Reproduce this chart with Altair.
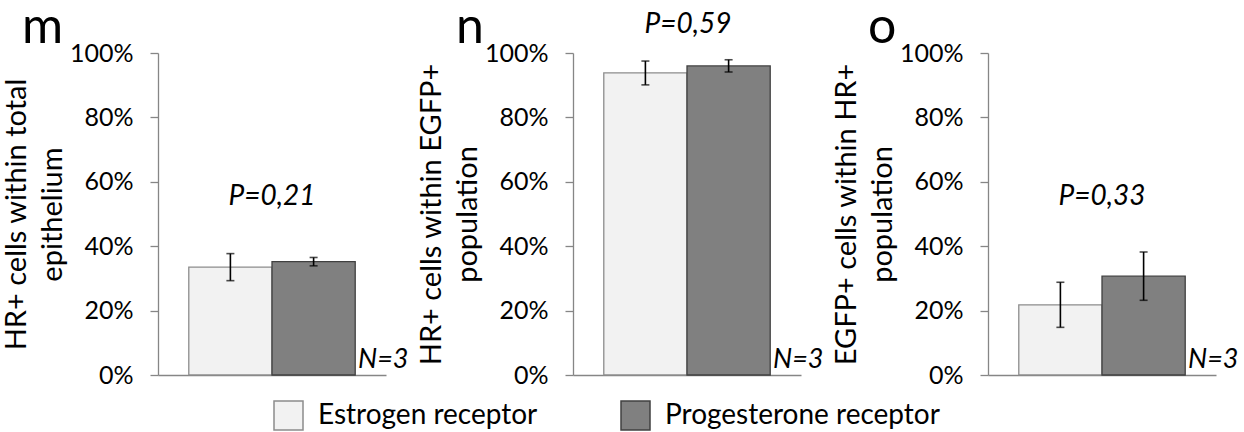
import altair as alt
import pandas as pd

# Panel content
panel_letters = ["m", "n", "o"]
y_titles = [
    ["HR+ cells within total", "epithelium"],
    ["HR+ cells within EGFP+", "population"],
    ["EGFP+ cells within HR+", "population"],
]
receptors = ["Estrogen receptor", "Progesterone receptor"]
er_mean = [0.335, 0.938, 0.218]
er_err = [0.042, 0.037, 0.070]
pr_mean = [0.352, 0.960, 0.307]
pr_err = [0.013, 0.019, 0.075]
p_labels = ["P=0,21", "P=0,59", "P=0,33"]
n_label = "N=3"
y_ticks = [0, 0.2, 0.4, 0.6, 0.8, 1.0]

fills = ["#f2f2f2", "#808080"]
strokes = ["#8c8c8c", "#404040"]
axis_grey = "#868686"

FONT = "Lato"
W, H = 228, 322
# where the P label sits inside each panel (pixels from plot origin)
p_pos = [(114, 144), (115, -28), (114, 144)]
letter_x = [-136, -117, -120]


def panel(i):
    df = pd.DataFrame({
        "receptor": receptors,
        "mean": [er_mean[i], pr_mean[i]],
        "err": [er_err[i], pr_err[i]],
    })
    base = alt.Chart(df).encode(
        x=alt.X(
            "receptor:N",
            sort=receptors,
            scale=alt.Scale(paddingInner=0, paddingOuter=0.37),
            axis=alt.Axis(labels=False, ticks=False, title=None,
                          domainColor=axis_grey, domainWidth=1.3),
        )
    )
    bars = base.mark_bar(strokeWidth=1.3).encode(
        y=alt.Y(
            "mean:Q",
            scale=alt.Scale(domain=[0, 1]),
            axis=alt.Axis(format=".0%", values=y_ticks, title=y_titles[i]),
        ),
        fill=alt.Fill("receptor:N", sort=receptors,
                      scale=alt.Scale(domain=receptors, range=fills),
                      legend=alt.Legend(title=None)),
        stroke=alt.Stroke("receptor:N", sort=receptors,
                          scale=alt.Scale(domain=receptors, range=strokes),
                          legend=None),
    )
    err = base.transform_calculate(
        lo="datum.mean - datum.err", hi="datum.mean + datum.err"
    )
    whisker = err.mark_rule(color="black", strokeWidth=1.6).encode(
        y=alt.Y("lo:Q"), y2="hi:Q"
    )
    cap_lo = err.mark_tick(color="black", thickness=1.6, size=8).encode(y=alt.Y("lo:Q"))
    cap_hi = err.mark_tick(color="black", thickness=1.6, size=8).encode(y=alt.Y("hi:Q"))

    px, py = p_pos[i]
    p_text = alt.Chart(pd.DataFrame({"t": [p_labels[i]]})).mark_text(
        font=FONT, fontSize=28, fontStyle="italic", align="center",
        baseline="middle", color="black",
    ).encode(text="t:N", x=alt.value(px), y=alt.value(py))

    n_text = alt.Chart(pd.DataFrame({"t": [n_label]})).mark_text(
        font=FONT, fontSize=27, fontStyle="italic", align="left",
        baseline="alphabetic", color="black",
    ).encode(text="t:N", x=alt.value(200), y=alt.value(315))

    letter = alt.Chart(pd.DataFrame({"t": [panel_letters[i]]})).mark_text(
        font=FONT, fontSize=50, align="left", baseline="alphabetic", color="black",
    ).encode(text="t:N", x=alt.value(letter_x[i]), y=alt.value(-10))

    return alt.layer(bars, whisker, cap_lo, cap_hi, p_text, n_text, letter).properties(
        width=W, height=H
    )


chart = (
    alt.hconcat(*[panel(i) for i in range(3)], spacing=187, bounds="flush")
    .properties(padding={"left": 2, "top": 3, "right": 0, "bottom": 0})
    .configure_view(stroke=None)
    .configure_axis(
        grid=False,
        domainColor=axis_grey,
        domainWidth=1.3,
        tickColor=axis_grey,
        tickSize=8,
        tickWidth=1.3,
        labelFont=FONT,
        labelFontSize=25,
        labelColor="black",
        labelPadding=17,
        titleFont=FONT,
        titleFontSize=29,
        titleFontWeight="normal",
        titleColor="black",
        titlePadding=2,
        titleLineHeight=36,
    )
    .configure_legend(
        orient="none",
        legendX=115,
        legendY=347,
        direction="horizontal",
        columns=2,
        symbolType="square",
        symbolSize=841,
        symbolStrokeColor="#404040",
        symbolStrokeWidth=1.5,
        symbolOpacity=1,
        labelFont=FONT,
        labelFontSize=28,
        labelColor="black",
        labelLimit=400,
        labelOffset=14,
        columnPadding=80,
    )
)

chart.save("out.html", embed_options={"renderer": "svg", "actions": False})
